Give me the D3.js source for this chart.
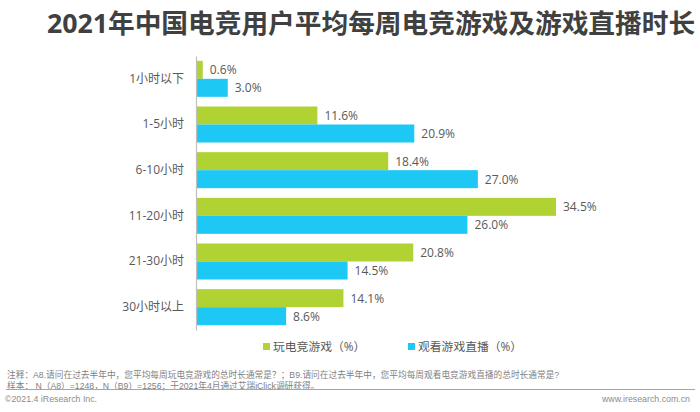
<!DOCTYPE html>
<html>
<head>
<meta charset="utf-8">
<script src="https://cdn.jsdelivr.net/npm/d3@7"></script>
<style>
html,body{margin:0;padding:0;background:#fff}
text{font-family:"Open Sans","Noto Sans CJK SC",sans-serif}
</style>
</head>
<body>
<svg id="canvas" width="700" height="412"></svg>
<script>
var categories=["1小时以下","1-5小时","6-10小时","11-20小时","21-30小时","30小时以上"];
var play_values=[0.6,11.6,18.4,34.5,20.8,14.1];
var watch_values=[3.0,20.9,27.0,26.0,14.5,8.6];
var series_names=["玩电竞游戏（%）","观看游戏直播（%）"];
var colors=["#b0d232","#1ec8f5"];
var note_font='"Liberation Sans","Noto Sans CJK SC",sans-serif';

var canvas=d3.select("#canvas");

canvas.append("text")
    .attr("x",371).attr("y",33)
    .attr("text-anchor","middle")
    .style("font-size","26.7px").style("font-weight",700).style("fill","#404040")
    .text("2021年中国电竞用户平均每周电竞游戏及游戏直播时长");

var x=d3.scaleLinear().domain([0,34.5]).range([196.5,556]);
var y=d3.scaleBand().domain(categories).range([56,330]);
var bar_h=18;

// bars, two per category
[play_values,watch_values].forEach(function(vals,s){
    var g=canvas.append("g");
    g.selectAll("rect").data(vals).enter().append("rect")
        .attr("x",x(0))
        .attr("y",function(d,i){return y(categories[i])+y.bandwidth()/2-bar_h+s*bar_h})
        .attr("width",function(d){return x(d)-x(0)})
        .attr("height",bar_h)
        .style("fill",colors[s]);
    g.selectAll("text").data(vals).enter().append("text")
        .attr("x",function(d){return x(d)+7})
        .attr("y",function(d,i){return y(categories[i])+y.bandwidth()/2-bar_h/2+s*bar_h+4.5})
        .style("font-size","12px").style("fill","#595959")
        .text(function(d){return d.toFixed(1)+"%"});
});

// category axis
var axis=canvas.append("g").attr("transform","translate(196,0)")
    .call(d3.axisLeft(y).tickSize(0).tickPadding(12));
axis.select(".domain").style("stroke","#bfbfbf").style("stroke-width",1.2);
axis.selectAll("text").style("font-size","12px").style("fill","#595959")
    .style("font-family",'"Open Sans","Noto Sans CJK SC",sans-serif');

// legend
var legend_x=[263,408];
series_names.forEach(function(n,i){
    canvas.append("rect").attr("x",legend_x[i]).attr("y",343).attr("width",7).attr("height",7).style("fill",colors[i]);
    canvas.append("text").attr("x",legend_x[i]+10).attr("y",351)
        .style("font-size","11.8px").style("fill","#595959").text(n);
});

// notes
canvas.append("text").attr("x",7).attr("y",378)
    .style("font-size","8.7px").style("fill","#7f7f7f").style("font-family",note_font)
    .text("注释：A8.请问在过去半年中，您平均每周玩电竞游戏的总时长通常是？；B9.请问在过去半年中，您平均每周观看电竞游戏直播的总时长通常是?");
canvas.append("text").attr("x",7).attr("y",389)
    .style("font-size","8.7px").style("fill","#7f7f7f").style("font-family",note_font)
    .text("样本： N（A8）=1248，N（B9）=1256；于2021年4月通过艾瑞iClick调研获得。");
canvas.append("line").attr("x1",6).attr("x2",695).attr("y1",389.5).attr("y2",389.5)
    .style("stroke","#a6a6a6").style("stroke-width",1);
canvas.append("text").attr("x",5).attr("y",402)
    .style("font-size","8.8px").style("fill","#8c8c8c").style("font-family","Liberation Sans")
    .text("©2021.4 iResearch Inc.");
canvas.append("text").attr("x",690).attr("y",402).attr("text-anchor","end")
    .style("font-size","8.8px").style("fill","#8c8c8c").style("font-family","Liberation Sans")
    .text("www.iresearch.com.cn");
</script>
</body>
</html>
